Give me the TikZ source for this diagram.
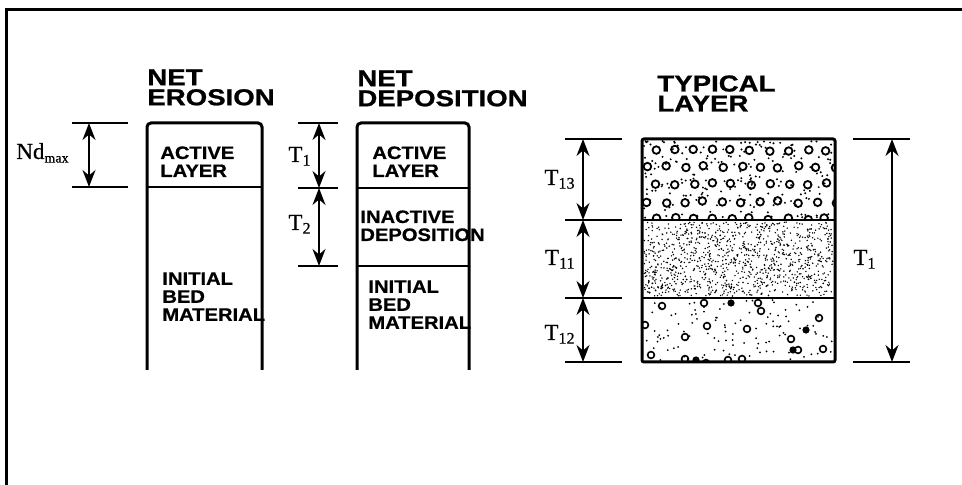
\documentclass[tikz,border=0pt]{standalone}
\usepackage{fontspec}
\setmainfont{Liberation Serif}
\newfontfamily\headfont[FakeStretch=1.2, FakeBold=1]{Liberation Sans}
\newfontfamily\layerfont[FakeStretch=1.12, FakeBold=0.8]{Liberation Sans}
\newfontfamily\dimfont[FakeBold=0.6]{Liberation Serif}
\usetikzlibrary{arrows.meta}

\begin{document}
\begin{tikzpicture}[x=0.5pt, y=-0.5pt,
  heading/.style={font=\headfont\bfseries\fontsize{11.5}{10}\selectfont, align=left, anchor=north west, inner sep=0pt},
  layertext/.style={font=\layerfont\bfseries\fontsize{9}{9}\selectfont, align=left, anchor=north west, inner sep=0pt},
  dimlabel/.style={font=\dimfont\fontsize{11.5}{12}\selectfont, anchor=base east, inner sep=0pt},
  column/.style={line width=1.5pt, rounded corners=2pt},
  divider/.style={line width=1.3pt},
  extline/.style={line width=1.2pt},
  dimarrow/.style={line width=0.9pt, {Stealth[length=8.5pt,width=6.5pt]}-{Stealth[length=8.5pt,width=6.5pt]}}]

\useasboundingbox (0,0) rectangle (962,485);
\draw[line width=1.5pt] (6,485) -- (6,10) -- (962,10);

\node[heading] (erosion) at (147,69) {NET\\EROSION};
\draw[column] (147,370) -- (147,123) -- (262,123) -- (262,370);
\draw[divider] (147,187) -- (262,187);
\node[layertext] (eroactive) at (160,146) {ACTIVE\\LAYER};
\node[layertext] (erobed) at (162,272) {INITIAL\\BED\\MATERIAL};

\coordinate (nd1) at (89,123);
\coordinate (nd2) at (89,187);
\draw[extline] (72,123) -- (128,123);
\draw[extline] (72,187) -- (128,187);
\draw[dimarrow] (nd1) -- (nd2);
\node[dimlabel, anchor=base west] (ndmax) at (16,159) {Nd\textsubscript{\scriptsize max}};

\node[heading] (deposition) at (357,70) {NET\\DEPOSITION};
\draw[column] (357,370) -- (357,123) -- (469,123) -- (469,370);
\draw[divider] (357,188) -- (469,188);
\draw[divider] (357,266) -- (469,266);
\node[layertext] (depactive) at (372,146) {ACTIVE\\LAYER};
\node[layertext] (depinactive) at (360,210) {INACTIVE\\DEPOSITION};
\node[layertext] (depbed) at (368,280) {INITIAL\\BED\\MATERIAL};

\coordinate (ta) at (319,123);
\coordinate (tb) at (319,188);
\coordinate (tc) at (319,266);
\draw[extline] (298,123) -- (338,123);
\draw[extline] (298,188) -- (338,188);
\draw[extline] (298,266) -- (338,266);
\draw[dimarrow] (ta) -- (tb);
\draw[dimarrow] (tb) -- (tc);
\node[dimlabel] (tone) at (312,162) {T\textsubscript{1}};
\node[dimlabel] (ttwo) at (312,230) {T\textsubscript{2}};

\node[heading] (typical) at (657,75) {TYPICAL\\LAYER};

\begin{scope}
\clip (642,139) rectangle (835,220);
\pgfmathsetseed{11}
\foreach \r [count=\k] in {150,167,184,202,219} {
  \pgfmathsetmacro\shift{mod(\k,2)*9}
  \foreach \c in {0,...,10} {
    \pgfmathsetmacro\px{646+\shift+19*\c+2*rand}
    \pgfmathsetmacro\py{\r+1.5*rand}
    \draw[line width=0.9pt] (\px,\py) circle (1.9pt);
  }
}
\foreach \i in {1,...,200} {
  \pgfmathsetmacro\px{644+189*rnd}
  \pgfmathsetmacro\py{141+77*rnd}
  \fill (\px,\py) circle (0.55pt);
}
\end{scope}

\begin{scope}
\clip (642,220) rectangle (835,298);
\pgfmathsetseed{23}
\foreach \i in {1,...,1100} {
  \pgfmathsetmacro\px{644+189*rnd}
  \pgfmathsetmacro\py{222+74*rnd}
  \fill (\px,\py) circle (0.4pt);
}
\end{scope}

\begin{scope}
\clip (642,298) rectangle (835,362);
\pgfmathsetseed{5}
\foreach \i in {1,...,110} {
  \pgfmathsetmacro\px{644+189*rnd}
  \pgfmathsetmacro\py{300+60*rnd}
  \fill (\px,\py) circle (0.5pt);
}
\foreach \px/\py in {662/306,704/303,758/303,761/311,707/326,685/337,747/329,791/339,819/318,742/359,728/360,706/363,685/359,651/355,645/325,823/349,798/350} {
  \draw[line width=0.8pt] (\px,\py) circle (1.7pt);
}
\foreach \px/\py in {731/303,806/330,793/350,696/360} {
  \fill (\px,\py) circle (1.8pt);
}
\end{scope}

\draw[line width=1.5pt, rounded corners=1pt] (642,139) rectangle (835,362);
\draw[divider] (642,220) -- (835,220);
\draw[divider] (642,298) -- (835,298);

\coordinate (la) at (583,139);
\coordinate (lb) at (583,220);
\coordinate (lc) at (583,298);
\coordinate (ld) at (583,362);
\draw[extline] (565,139) -- (622,139);
\draw[extline] (565,220) -- (622,220);
\draw[extline] (565,298) -- (622,298);
\draw[extline] (565,362) -- (622,362);
\draw[dimarrow] (la) -- (lb);
\draw[dimarrow] (lb) -- (lc);
\draw[dimarrow] (lc) -- (ld);
\node[dimlabel] (tthirteen) at (576,185) {T\textsubscript{13}};
\node[dimlabel] (televen) at (576,265) {T\textsubscript{11}};
\node[dimlabel] (ttwelve) at (576,340) {T\textsubscript{12}};

\coordinate (ra) at (892,139);
\coordinate (rb) at (892,362);
\draw[extline] (853,139) -- (910,139);
\draw[extline] (853,362) -- (910,362);
\draw[dimarrow] (ra) -- (rb);
\node[dimlabel, anchor=base west] (tall) at (853,265) {T\textsubscript{1}};

\end{tikzpicture}
\end{document}
